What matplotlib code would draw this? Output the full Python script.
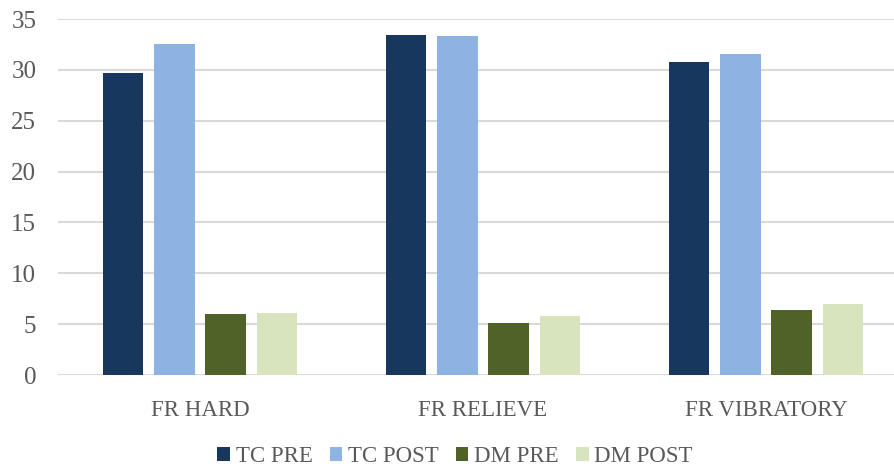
import matplotlib.pyplot as plt
import numpy as np

categories = ["FR HARD", "FR RELIEVE", "FR VIBRATORY"]
series_names = ["TC PRE", "TC POST", "DM PRE", "DM POST"]
tc_pre = [29.7, 33.4, 30.8]
tc_post = [32.5, 33.3, 31.6]
dm_pre = [5.97, 5.15, 6.37]
dm_post = [6.13, 5.84, 6.99]

colors = ["#17375E", "#8DB3E2", "#4F6228", "#D7E4BD"]
text_color = "#595959"

plt.rcParams['font.family'] = ['Liberation Serif', 'DejaVu Serif']

fig = plt.figure(figsize=(8.95, 4.68), dpi=100)
# axes run a little past the right edge of the canvas
ax = fig.add_axes([58.5 / 895, 93 / 468, 849 / 895, 356 / 468])

x = np.arange(len(categories))
pitch = 0.181
width = 0.143
all_series = [tc_pre, tc_post, dm_pre, dm_post]
for i, (name, vals) in enumerate(zip(series_names, all_series)):
    ax.bar(x + (i - 1.5) * pitch, vals, width, color=colors[i], label=name, zorder=3)

ax.set_xlim(-0.5, 2.5)
ax.set_ylim(0, 35)
ax.set_yticks(range(0, 36, 5))
ax.set_xticks(x)
ax.set_xticklabels(categories)
ax.yaxis.grid(True, color="#D9D9D9", linewidth=1.5, zorder=0)
ax.set_axisbelow(True)
for s in ax.spines.values():
    s.set_visible(False)
ax.tick_params(axis="both", length=0, labelcolor=text_color)
ax.tick_params(axis="y", pad=16, labelsize=18)
ax.tick_params(axis="x", pad=18, labelsize=16.5)

fig.legend(loc="center", bbox_to_anchor=(455 / 895, 1 - 457 / 468), ncol=4,
           frameon=False, fontsize=16.5, labelcolor=text_color,
           handlelength=0.55, handleheight=0.55, handletextpad=0.25,
           columnspacing=0.75)

fig.savefig("out.png", dpi=100)
